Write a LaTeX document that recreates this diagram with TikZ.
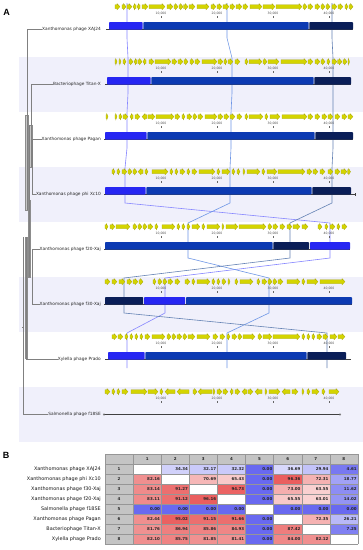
\documentclass[tikz,border=0pt]{standalone}
\usepackage{fontspec}
\setmainfont{DejaVu Sans}
\newfontfamily\arialf{Liberation Sans}
\definecolor{band}{RGB}{240,240,251}
\definecolor{lcbB}{RGB}{38,38,242}
\definecolor{lcbM}{RGB}{12,58,178}
\definecolor{lcbD}{RGB}{10,30,88}
\definecolor{lnB}{RGB}{135,135,255}
\definecolor{lnM}{RGB}{110,150,230}
\definecolor{lnD}{RGB}{100,130,180}
\definecolor{geneF}{RGB}{212,212,0}
\definecolor{geneD}{RGB}{165,165,0}
\definecolor{hred}{RGB}{232,80,80}
\definecolor{hblue}{RGB}{105,105,240}
\definecolor{tgray}{RGB}{196,196,196}
\definecolor{tgrid}{RGB}{150,150,150}
\tikzset{
  glab/.style={font=\fontsize{4.3}{5}\selectfont, anchor=east, inner sep=0pt, text=black!85},
  rlab/.style={font=\fontsize{3.1}{3.5}\selectfont, inner sep=0pt, text=black!70},
  tlab/.style={font=\fontsize{4.9}{5.5}\selectfont, anchor=east, inner sep=0pt, text=black!90},
  tnum/.style={font=\bfseries\fontsize{4}{4.5}\selectfont, anchor=east, inner sep=0pt, text=black!85},
  thead/.style={font=\bfseries\fontsize{4}{4.5}\selectfont, inner sep=0pt, text=black!85},
  panel/.style={font=\arialf\bfseries\fontsize{9}{10}\selectfont, inner sep=0pt},
  tree/.style={draw=black!50, line width=0.45pt},
  treebar/.style={fill=black!22, draw=black!45, line width=0.3pt},
  gline/.style={draw=black!75, line width=0.5pt},
  lcbline/.style={line width=0.6pt},
}
\newcommand\genetrack[2]{%
  \foreach \a/\b in {#2}{%
    \pgfmathsetmacro\hh{(\b-\a)/abs(\b-\a)*min(3,0.6*abs(\b-\a))}%
    \pgfmathsetmacro\cc{\b-\hh}%
    \filldraw[fill=geneF,draw=geneD,line width=0.25pt] (\a,#1-1.9) -- (\cc,#1-1.9) -- (\cc,#1-3.1) -- (\b,#1) -- (\cc,#1+3.1) -- (\cc,#1+1.9) -- (\a,#1+1.9) -- cycle;}}
\newcommand\ruler[1]{%
  \foreach \x/\t in {161/10{,}000,217/20{,}000,273/30{,}000,329/40{,}000}{%
    \node[rlab] at (\x,#1-12.3) {\t};
    \draw[black!60,line width=0.3pt] (\x,#1-9.8) -- (\x,#1-8.3);}}
\newcommand\seg[4]{\fill[#4,rounded corners=0.8pt] (#2,#1-4) rectangle (#3,#1+3.5);}
\newcommand\trow[3]{%
  \node[tlab] (rl#1) at (101,{459+10*#1}) {#2};
  \fill[tgray] (105,{454+10*#1}) rectangle (133.1,{464+10*#1});
  \node[thead] (ri#1) at (119,{459+10*#1}) {#1};
  \foreach \v [count=\k] in {#3}{%
    \pgfmathsetmacro\xa{105+28.1*\k}%
    \ifdim \v pt<0pt\relax
    \else
      \ifdim \v pt<50pt
        \pgfmathtruncatemacro\p{(50-\v)*2}%
        \fill[hblue!\p!white] (\xa,{454+10*#1}) rectangle ++(28.1,10);
      \else
        \pgfmathtruncatemacro\p{(\v-50)*2}%
        \fill[hred!\p!white] (\xa,{454+10*#1}) rectangle ++(28.1,10);
      \fi
      \node[tnum] at ({\xa+27},{459.3+10*#1}) {\v};
    \fi}}
\begin{document}
\begin{tikzpicture}[x=1pt,y=-1pt]
\useasboundingbox (0,0) rectangle (363,550);
\fill[white] (0,0) rectangle (363,550);
% bands
\foreach \i in {1,3,5,7} \fill[band] (19,{2+55*\i}) rectangle (363,{57+55*\i});
% panel labels
\node[panel] (pA) at (6.5,12.5) {A};
\node[panel] (pB) at (6,455) {B};
% genome labels
\node[glab] (g1) at (101,29.5) {Xanthomonas phage XAJ24};
\node[glab] (g2) at (101,84.5) {Bacteriophage Titan-X};
\node[glab] (g3) at (101,139.5) {Xanthomonas phage Pagan};
\node[glab] (g4) at (101,194.5) {Xanthomonas phage phi Xc10};
\node[glab] (g5) at (101,249.5) {Xanthomonas phage f20-Xaj};
\node[glab] (g6) at (101,304.5) {Xanthomonas phage f30-Xaj};
\node[glab] (g7) at (101,359.5) {Xylella phage Prado};
\node[glab] (g8) at (101,414.5) {Salmonella phage f18SE};
% tree
\fill[treebar] (25,115) rectangle (28,210);
\fill[treebar] (29,125) rectangle (32,167);
\fill[treebar] (28,200) rectangle (30.5,277);
\fill[treebar] (24.8,237) rectangle (27,358);
\draw[tree] (27,29.5) -- (g1.west);
\draw[tree] (31,84.5) -- (g2.west);
\draw[tree] (32,139.5) -- (g3.west);
\draw[tree] (32,194.5) -- (g4.west);
\draw[tree] (32,249.5) -- (g5.west);
\draw[tree] (32,304.5) -- (g6.west);
\draw[tree] (26,359.5) -- (g7.west);
\draw[tree] (23.5,414.5) -- (g8.west);
\draw[tree] (27,29.5) -- (27,210);
\draw[tree] (31,84.5) -- (31,167);
\draw[tree] (32,139.5) -- (32,194.5);
\draw[tree] (32,249.5) -- (32,304.5);
\draw[tree] (29.5,125) -- (29.5,277);
\draw[tree] (26,237) -- (26,359.5);
\draw[tree] (23.5,237) -- (23.5,414.5);
\draw[tree] (22,327) -- (23.5,327);
% LCB connecting lines
\draw[lcbline,lnB] (127,3)--(127,38)--(128,58)--(128,93)--(127,113)--(127,148)--(125,168)--(125,203)--(330,223)--(330,258)--(165,278)--(165,313)--(127,333)--(127,368);
\draw[lcbline,lnM] (227,3)--(227,38)--(232,58)--(232,93)--(231,113)--(231,148)--(230,168)--(230,203)--(188,223)--(188,258)--(269,278)--(269,313)--(227,333)--(227,368);
\draw[lcbline,lnD] (332,3)--(332,38)--(333,58)--(333,93)--(333,113)--(333,148)--(332,168)--(332,203)--(290,223)--(290,258)--(124,278)--(124,313)--(327,333)--(327,368);
% rulers
\foreach \c in {26,81,136,191,246,301,356,411} {\ruler{\c}}
% genes
\genetrack{6.7}{115/120,122/126,127/132,136/133,140/137,142/148,149/165,167/173,174/178,179/183,183.5/188,189/195,197/209,211/216,217/222,223/229,230/235,236/242,243/248,250/262,263/275,276/302,303/307,308/313,315/320,321/325,326/330,332/337,338/343,345/348,349/353}
\genetrack{61.7}{115/117,119/121,123/126,129/133,137/134,138/142,146/143,149/154,155/171,172/177,178/183,184/188,190/194,195/200,202/217,218/223,224/227,228/233,235/240,245/248,249/262,263/267,268/279,281/307,308/313,315/320,321/325,327/330,332/337,337.5/342,343/347,348/349.5}
\genetrack{116.7}{106/108,115/117,119/122,123/128,133/130,135/140,147/142,148/155,156/174,175/180,182/185,187/192,193/197,198/203,205/217,218/223,224/229,230/235,237/242,245/248,249/263,265/268,270/280,282/307,308/313,315/320,322/327,328/333,335/340,342/347,348/353}
\genetrack{171.7}{112/115,117/120,122/127,128/132,133/137,143/138,145/148,152/168,170/173,175/178,180/185,187/190,192/197,199/215,217/220,222/230,232/235,237/240,243/245,247/260,262/265,267/277,278/305,307/312,313/318,320/325,328/333,335/340,341/347,347.5/350.5}
\genetrack{226.7}{105/108,110/115,116/130,133/137,138/142,143/147,148/153,155/158,162/175,177/180,182/185,187/190,192/200,202/205,207/220,222/224,226/238,239/266,268/272,273/278,280/285,287/292,293/300,302/308,318/322,325/328,330/335,337/340,342/347}
\genetrack{281.7}{105/110,112/117,119/125,127/132,133/138,139/143,153/156,158/162,163/167,168/173,175/180,185/190,192/195,197/210,212/215,217/220,222/226,228/230,235/238,240/253,257/260,262/267,268/272,273/277,278/283,287/300,302/305,307/318,320/345}
\genetrack{336.7}{112/117,118/123,125/128,130/133,135/138,140/143,145/150,152/165,167/171,172/176,177/182,183/187,188/195,197/210,213/218,220/225,227/230,232/237,238/242,243/255,258/262,263/272,273/300,302/305,307/310,312/315,317/322,323/328,330/337,338/345}
\genetrack{391.7}{105/110,112/115,117/120,122/128,131/147,148/158,160/163,175/165,189/177,193/197,212/198,213/215,217/222,223/228,233/230,235/240,247/242,248/253,262/255,265/267,269/280,290/282,292/298,302/304,307/310,312/319,322/325,329/339}
% genome lines
\draw[gline] (106,29.5) -- (353,29.5);
\draw[gline] (105,84.5) -- (351,84.5);
\draw[gline] (104,139.5) -- (353,139.5);
\draw[gline] (104,194.5) -- (355,194.5);
\draw[gline] (355,193) -- (355,196);
\draw[gline] (104,249.5) -- (350,249.5);
\draw[gline] (104,304.5) -- (352,304.5);
\draw[gline] (105,359.5) -- (351,359.5);
\draw[gline] (104,414.5) -- (340,414.5);
\draw[black!60,line width=0.3pt] (104,414.5) circle (0.9);
\draw[black!60,line width=0.3pt] (340,414.5) circle (0.9);
% LCB bars
\seg{26}{109}{142.6}{lcbB}\seg{26}{143.4}{308.6}{lcbM}\seg{26}{309.4}{353}{lcbD}
\seg{81}{107}{150.6}{lcbB}\seg{81}{151.4}{313.6}{lcbM}\seg{81}{314.4}{351}{lcbD}
\seg{136}{105}{146.6}{lcbB}\seg{136}{147.4}{314.6}{lcbM}\seg{136}{315.4}{353}{lcbD}
\seg{191}{105}{145.6}{lcbB}\seg{191}{146.4}{311.6}{lcbM}\seg{191}{312.4}{351}{lcbD}
\seg{246}{105}{272.6}{lcbM}\seg{246}{273.4}{309}{lcbD}\seg{246}{310}{350}{lcbB}
\seg{301}{105}{143.2}{lcbD}\seg{301}{144}{185.2}{lcbB}\seg{301}{186}{352}{lcbM}
\seg{356}{108}{144.6}{lcbB}\seg{356}{145.4}{306.6}{lcbM}\seg{356}{307.4}{346}{lcbD}
% table
\fill[tgray] (105,454) rectangle (357.9,464);
\foreach \k in {1,...,8} \node[thead] (h\k) at ({105+28.1*\k+14.05},459.3) {\k};
\trow{1}{Xanthomonas phage XAJ24}{-1,34.34,32.17,32.32,0.00,36.69,29.94,4.61}
\trow{2}{Xanthomonas phage phi Xc10}{82.16,-1,70.69,65.43,0.00,96.36,72.31,18.77}
\trow{3}{Xanthomonas phage f30-Xaj}{83.14,91.27,-1,94.73,0.00,73.00,63.55,11.62}
\trow{4}{Xanthomonas phage f20-Xaj}{83.11,91.12,96.16,-1,0.00,65.55,63.01,14.02}
\trow{5}{Salmonella phage f18SE}{0.00,0.00,0.00,0.00,-1,0.00,0.00,0.00}
\trow{6}{Xanthomonas phage Pagan}{82.44,95.02,91.15,91.66,0.00,-1,72.35,26.21}
\trow{7}{Bacteriophage Titan-X}{81.76,86.94,85.86,84.93,0.00,87.42,-1,7.25}
\trow{8}{Xylella phage Prado}{82.10,85.75,81.85,81.41,0.00,84.00,82.12,-1}
\foreach \k in {0,...,9} \draw[tgrid,line width=0.4pt] ({105+28.1*\k},454) -- ({105+28.1*\k},544);
\foreach \r in {0,...,9} \draw[tgrid,line width=0.4pt] (105,{454+10*\r}) -- (357.9,{454+10*\r});
\end{tikzpicture}
\end{document}
